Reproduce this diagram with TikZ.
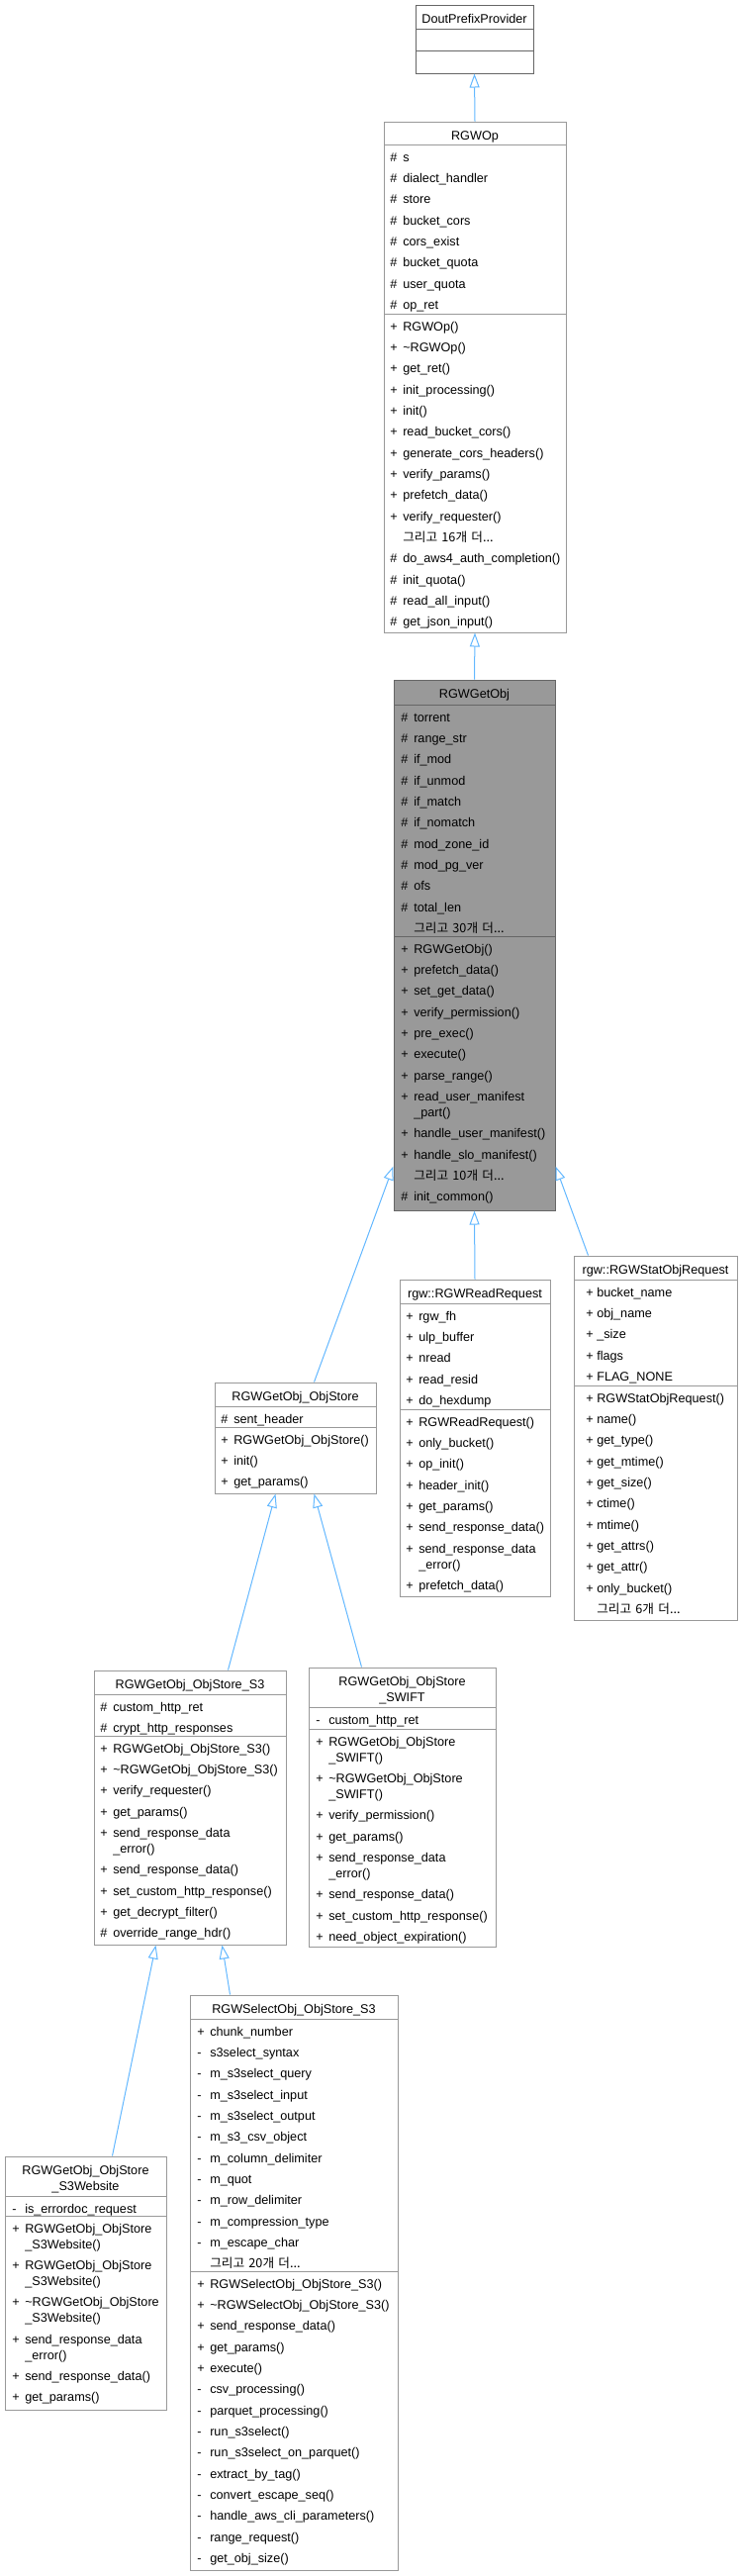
\documentclass[tikz,border=0pt]{standalone}
\usepackage{fontspec}
\setmainfont{Liberation Sans}
\newfontfamily\kr{Noto Sans CJK KR}
\usetikzlibrary{fit,arrows.meta}
\definecolor{edgeblue}{HTML}{63B8FF}
\definecolor{bordA}{HTML}{999999}
\definecolor{bordB}{HTML}{666666}
\definecolor{focusfill}{HTML}{999999}
\newlength\symw
\setlength\symw{9.75pt}
\newcommand\fs{\fontsize{9.5pt}{12pt}\selectfont}
\newcommand\sym[1]{\makebox[\symw][l]{#1}}
\newcommand\R{\\[4pt]}
\newcommand\W{\\\hspace*{\symw}}
\newcommand\more[1]{\hspace*{\symw}{\kr 그리고 #1개 더...}}
\tikzset{
  cls/.style={draw=bordA, line width=0.75pt, inner sep=0pt, fill=white},
  clsdark/.style={draw=bordB, line width=0.75pt, inner sep=0pt, fill=white},
  focuscls/.style={draw=bordB, line width=0.75pt, inner sep=0pt, fill=focusfill},
  sepA/.style={draw=bordA, line width=0.75pt},
  sepB/.style={draw=bordB, line width=0.75pt},
  ttl/.style={anchor=base, inner sep=0pt, text width=220pt, align=center, font=\fs},
  mem/.style={anchor=base west, inner sep=0pt, text width=250pt, align=left, font=\fs},
  inh/.style={draw=edgeblue, line width=0.75pt, -{Triangle[open, length=10.5pt, width=7.5pt]}}
}
\begin{document}
\begin{tikzpicture}[x=0.75pt,y=-0.75pt]
\fill[white] (0,0) rectangle (751,2603);
\useasboundingbox (0,0) rectangle (751,2603);

% DoutPrefixProvider
\node[clsdark, fit={(420,5) (539,74)}] (dout) {};
\draw[sepB] (420,29) -- (539,29);
\draw[sepB] (420,51) -- (539,51);
\node[ttl] (dout-t) at (479.5,23) {DoutPrefixProvider};

% RGWOp
\node[cls, fit={(388,123) (572,639)}] (op) {};
\draw[sepA] (388,146) -- (572,146);
\draw[sepA] (388,317) -- (572,317);
\node[ttl] (op-t) at (480,141) {RGWOp};
\node[mem] (op-a) at (394,163) {\sym{\#}s\R\sym{\#}dialect\_handler\R\sym{\#}store\R\sym{\#}bucket\_cors\R\sym{\#}cors\_exist\R\sym{\#}bucket\_quota\R\sym{\#}user\_quota\R\sym{\#}op\_ret};
\node[mem] (op-o) at (394,334) {\sym{+}RGWOp()\R\sym{+}\textasciitilde RGWOp()\R\sym{+}get\_ret()\R\sym{+}init\_processing()\R\sym{+}init()\R\sym{+}read\_bucket\_cors()\R\sym{+}generate\_cors\_headers()\R\sym{+}verify\_params()\R\sym{+}prefetch\_data()\R\sym{+}verify\_requester()\R\more{16}\R\sym{\#}do\_aws4\_auth\_completion()\R\sym{\#}init\_quota()\R\sym{\#}read\_all\_input()\R\sym{\#}get\_json\_input()};

% RGWGetObj
\node[focuscls, fit={(398,687) (561,1223)}] (getobj) {};
\draw[sepB] (398,712) -- (561,712);
\draw[sepB] (398,946) -- (561,946);
\node[ttl] (getobj-t) at (479.5,705) {RGWGetObj};
\node[mem] (getobj-a) at (405,729) {\sym{\#}torrent\R\sym{\#}range\_str\R\sym{\#}if\_mod\R\sym{\#}if\_unmod\R\sym{\#}if\_match\R\sym{\#}if\_nomatch\R\sym{\#}mod\_zone\_id\R\sym{\#}mod\_pg\_ver\R\sym{\#}ofs\R\sym{\#}total\_len\R\more{30}};
\node[mem] (getobj-o) at (405,963) {\sym{+}RGWGetObj()\R\sym{+}prefetch\_data()\R\sym{+}set\_get\_data()\R\sym{+}verify\_permission()\R\sym{+}pre\_exec()\R\sym{+}execute()\R\sym{+}parse\_range()\R\sym{+}read\_user\_manifest\W\_part()\R\sym{+}handle\_user\_manifest()\R\sym{+}handle\_slo\_manifest()\R\more{10}\R\sym{\#}init\_common()};

% RGWGetObj_ObjStore
\node[cls, fit={(217,1397) (380,1509)}] (objstore) {};
\draw[sepA] (217,1421) -- (380,1421);
\draw[sepA] (217,1442) -- (380,1442);
\node[ttl] (objstore-t) at (298.5,1415) {RGWGetObj\_ObjStore};
\node[mem] (objstore-a) at (223,1438) {\sym{\#}sent\_header};
\node[mem] (objstore-o) at (223,1459) {\sym{+}RGWGetObj\_ObjStore()\R\sym{+}init()\R\sym{+}get\_params()};

% rgw::RGWReadRequest
\node[cls, fit={(404,1293) (556,1613)}] (readreq) {};
\draw[sepA] (404,1317) -- (556,1317);
\draw[sepA] (404,1424) -- (556,1424);
\node[ttl] (readreq-t) at (480,1311) {rgw::RGWReadRequest};
\node[mem] (readreq-a) at (410,1334) {\sym{+}rgw\_fh\R\sym{+}ulp\_buffer\R\sym{+}nread\R\sym{+}read\_resid\R\sym{+}do\_hexdump};
\node[mem] (readreq-o) at (410,1441) {\sym{+}RGWReadRequest()\R\sym{+}only\_bucket()\R\sym{+}op\_init()\R\sym{+}header\_init()\R\sym{+}get\_params()\R\sym{+}send\_response\_data()\R\sym{+}send\_response\_data\W\_error()\R\sym{+}prefetch\_data()};

% rgw::RGWStatObjRequest
\node[cls, fit={(580,1269) (745,1637)}] (statreq) {};
\draw[sepA] (580,1293) -- (745,1293);
\draw[sepA] (580,1400) -- (745,1400);
\node[ttl] (statreq-t) at (662.5,1287) {rgw::RGWStatObjRequest};
\node[mem] (statreq-a) at (592,1310) {\setlength\symw{8.25pt}\sym{+}bucket\_name\R\sym{+}obj\_name\R\sym{+}\_size\R\sym{+}flags\R\sym{+}FLAG\_NONE};
\node[mem] (statreq-o) at (592,1417) {\setlength\symw{8.25pt}\sym{+}RGWStatObjRequest()\R\sym{+}name()\R\sym{+}get\_type()\R\sym{+}get\_mtime()\R\sym{+}get\_size()\R\sym{+}ctime()\R\sym{+}mtime()\R\sym{+}get\_attrs()\R\sym{+}get\_attr()\R\sym{+}only\_bucket()\R\more{6}};

% RGWGetObj_ObjStore_S3
\node[cls, fit={(95,1688) (289,1965)}] (s3) {};
\draw[sepA] (95,1712) -- (289,1712);
\draw[sepA] (95,1754) -- (289,1754);
\node[ttl] (s3-t) at (192,1706) {RGWGetObj\_ObjStore\_S3};
\node[mem] (s3-a) at (101,1729) {\sym{\#}custom\_http\_ret\R\sym{\#}crypt\_http\_responses};
\node[mem] (s3-o) at (101,1771) {\sym{+}RGWGetObj\_ObjStore\_S3()\R\sym{+}\textasciitilde RGWGetObj\_ObjStore\_S3()\R\sym{+}verify\_requester()\R\sym{+}get\_params()\R\sym{+}send\_response\_data\W\_error()\R\sym{+}send\_response\_data()\R\sym{+}set\_custom\_http\_response()\R\sym{+}get\_decrypt\_filter()\R\sym{\#}override\_range\_hdr()};

% RGWGetObj_ObjStore_SWIFT
\node[cls, fit={(312,1685) (501,1967)}] (swift) {};
\draw[sepA] (312,1725) -- (501,1725);
\draw[sepA] (312,1747) -- (501,1747);
\node[ttl] (swift-t) at (406.5,1703) {RGWGetObj\_ObjStore\\\_SWIFT};
\node[mem] (swift-a) at (319,1742) {\sym{-}custom\_http\_ret};
\node[mem] (swift-o) at (319,1764) {\sym{+}RGWGetObj\_ObjStore\W\_SWIFT()\R\sym{+}\textasciitilde RGWGetObj\_ObjStore\W\_SWIFT()\R\sym{+}verify\_permission()\R\sym{+}get\_params()\R\sym{+}send\_response\_data\W\_error()\R\sym{+}send\_response\_data()\R\sym{+}set\_custom\_http\_response()\R\sym{+}need\_object\_expiration()};

% RGWGetObj_ObjStore_S3Website
\node[cls, fit={(5,2179) (168,2435)}] (web) {};
\draw[sepA] (5,2219) -- (168,2219);
\draw[sepA] (5,2239) -- (168,2239);
\node[ttl] (web-t) at (86.5,2197) {RGWGetObj\_ObjStore\\\_S3Website};
\node[mem] (web-a) at (12,2236) {\sym{-}is\_errordoc\_request};
\node[mem] (web-o) at (12,2256) {\sym{+}RGWGetObj\_ObjStore\W\_S3Website()\R\sym{+}RGWGetObj\_ObjStore\W\_S3Website()\R\sym{+}\textasciitilde RGWGetObj\_ObjStore\W\_S3Website()\R\sym{+}send\_response\_data\W\_error()\R\sym{+}send\_response\_data()\R\sym{+}get\_params()};

% RGWSelectObj_ObjStore_S3
\node[cls, fit={(192,2016) (402,2597)}] (sel) {};
\draw[sepA] (192,2040) -- (402,2040);
\draw[sepA] (192,2295) -- (402,2295);
\node[ttl] (sel-t) at (297,2034) {RGWSelectObj\_ObjStore\_S3};
\node[mem] (sel-a) at (199,2057) {\sym{+}chunk\_number\R\sym{-}s3select\_syntax\R\sym{-}m\_s3select\_query\R\sym{-}m\_s3select\_input\R\sym{-}m\_s3select\_output\R\sym{-}m\_s3\_csv\_object\R\sym{-}m\_column\_delimiter\R\sym{-}m\_quot\R\sym{-}m\_row\_delimiter\R\sym{-}m\_compression\_type\R\sym{-}m\_escape\_char\R\more{20}};
\node[mem] (sel-o) at (199,2312) {\sym{+}RGWSelectObj\_ObjStore\_S3()\R\sym{+}\textasciitilde RGWSelectObj\_ObjStore\_S3()\R\sym{+}send\_response\_data()\R\sym{+}get\_params()\R\sym{+}execute()\R\sym{-}csv\_processing()\R\sym{-}parquet\_processing()\R\sym{-}run\_s3select()\R\sym{-}run\_s3select\_on\_parquet()\R\sym{-}extract\_by\_tag()\R\sym{-}convert\_escape\_seq()\R\sym{-}handle\_aws\_cli\_parameters()\R\sym{-}range\_request()\R\sym{-}get\_obj\_size()};

% inheritance arrows
\draw[inh] (op.north) -- (dout.south);
\draw[inh] (getobj.north) -- (op.south);
\draw[inh] ([shift={(101,0)}]objstore.north west) -- ([shift={(0,-45)}]getobj.south west);
\draw[inh] (readreq.north) -- (getobj.south);
\draw[inh] ([shift={(15,0)}]statreq.north west) -- ([shift={(0,-45)}]getobj.south east);
\draw[inh] ([shift={(136,0)}]s3.north west) -- ([shift={(62,0)}]objstore.south west);
\draw[inh] ([shift={(54,0)}]swift.north west) -- ([shift={(101,0)}]objstore.south west);
\draw[inh] ([shift={(109,0)}]web.north west) -- ([shift={(63,0)}]s3.south west);
\draw[inh] ([shift={(41,0)}]sel.north west) -- ([shift={(130,0)}]s3.south west);
\end{tikzpicture}
\end{document}
